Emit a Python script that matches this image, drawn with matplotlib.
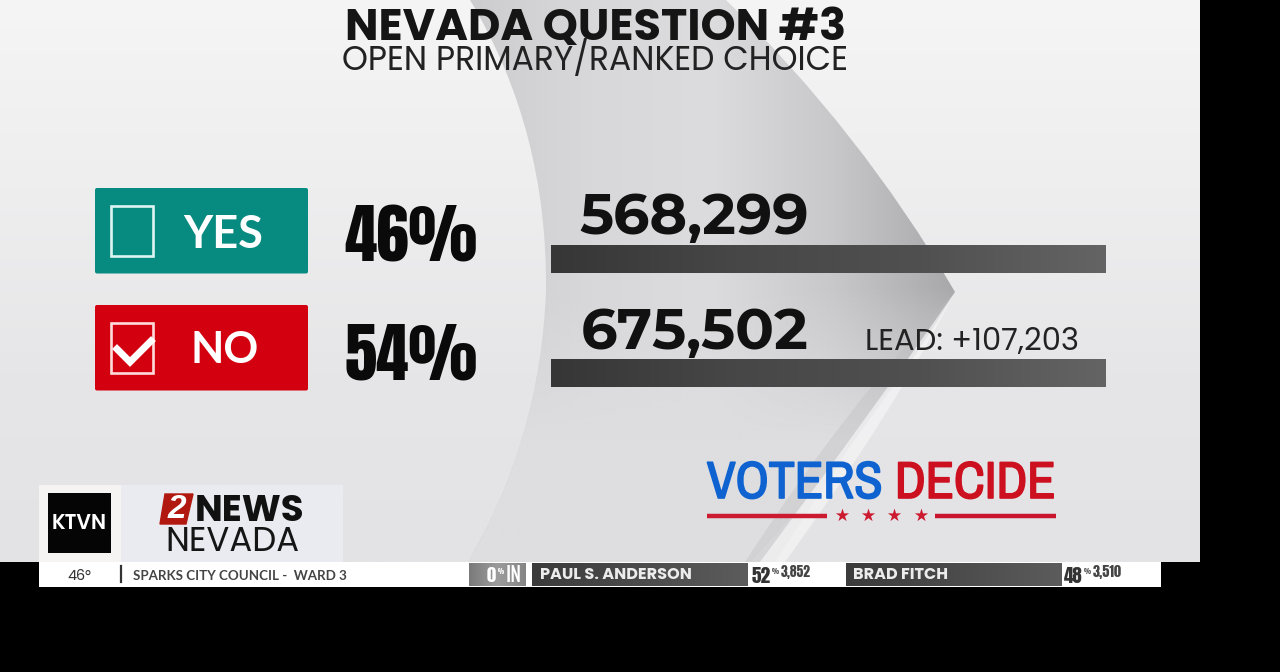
import logging
import numpy as np
import matplotlib
matplotlib.use("Agg")
import matplotlib.pyplot as plt
import matplotlib.patheffects as pe
from matplotlib.patches import Rectangle, PathPatch, FancyBboxPatch
from matplotlib.path import Path
from matplotlib.colors import LinearSegmentedColormap as LSC, to_rgb

logging.getLogger("matplotlib.font_manager").setLevel(logging.ERROR)

title = "NEVADA QUESTION #3"
subtitle = "OPEN PRIMARY/RANKED CHOICE"
choices = ["YES", "NO"]
percents = ["46%", "54%"]
votes = ["568,299", "675,502"]
bar_share = [100, 100]
lead = "LEAD: +107,203"
race = "SPARKS CITY COUNCIL -  WARD 3"
temp = "46°"
cand_names = ["PAUL S. ANDERSON", "BRAD FITCH"]
cand_pct = ["52", "48"]
cand_votes = ["3,852", "3,510"]

COND = ["Anton", "Roboto", "DejaVu Sans"]
NARROW = ["Archivo Narrow", "Roboto", "DejaVu Sans"]
FJALLA = ["Fjalla One", "Anton", "Roboto", "DejaVu Sans"]
DIGITS = ["Montserrat Alternates", "DejaVu Sans"]
WIDE = ["Poppins", "DejaVu Sans"]
LATO = ["Lato", "DejaVu Sans"]

fig = plt.figure(figsize=(12.8, 6.72), dpi=100, facecolor="black")
ax = fig.add_axes([0, 0, 1, 1])
renderer = fig.canvas.get_renderer()


def T(x0, x1, base, s, family, color, weight="normal", z=7, sw=0):
    """Text whose font size is set so it spans pixels x0..x1, on baseline base."""
    t = ax.text(x0, base, s, family=family, fontweight=weight, color=color, fontsize=20,
                ha="left", va="baseline", zorder=z)
    w = t.get_window_extent(renderer).width
    t.set_fontsize(20 * (x1 - x0) / w)
    if sw:
        t.set_path_effects([pe.withStroke(linewidth=sw, foreground=color)])
    return t


def grad(x0, x1, y0, y1, colors, horizontal=True, clip=None, z=1):
    t = np.linspace(0, 1, 256)
    arr = t[None, :] if horizontal else t[:, None]
    im = ax.imshow(arr, extent=(x0, x1, y1, y0), cmap=LSC.from_list("g", colors),
                   aspect="auto", zorder=z, interpolation="bilinear", vmin=0, vmax=1, origin="upper")
    if clip is not None:
        im.set_clip_path(clip)
    return im


def fade(x0, x1, y0, y1, color, a0, a1, horizontal=False, clip=None, z=3):
    t = np.linspace(a0, a1, 256)
    alpha = t[None, :] if horizontal else t[:, None]
    rgba = np.ones(alpha.shape + (4,))
    rgba[..., :3] = to_rgb(color)
    rgba[..., 3] = alpha
    im = ax.imshow(rgba, extent=(x0, x1, y1, y0), aspect="auto", zorder=z,
                   interpolation="bilinear", origin="upper")
    if clip is not None:
        im.set_clip_path(clip)
    return im


def shape(points, codes, **kw):
    p = PathPatch(Path(points, codes), **kw)
    ax.add_patch(p)
    return p


M, L, C = Path.MOVETO, Path.LINETO, Path.CURVE3

# Background
grad(0, 1200, 0, 562, ["#f5f5f5", "#eeeeef", "#e6e6e8", "#e3e3e5"], horizontal=False, z=1)
# Swoosh body
body = shape([(470, 0), (548, 130), (546, 292), (540, 440), (468, 562),
              (750, 562), (880, 420), (955, 292), (860, 130), (726, 0), (470, 0)],
             [M, C, C, C, C, L, C, C, C, C, L], fc="none", ec="none", zorder=2)
grad(470, 955, 0, 562, ["#cdcdcf", "#d8d8da", "#dcdcde", "#c8c8ca", "#a8a8aa"], clip=body, z=2)
fade(460, 960, 285, 440, "#dedee0", 0, 1, clip=body, z=3)
fade(460, 960, 440, 562, "#dedee0", 1, 1, clip=body, z=3)
# Shadow and highlight strip toward the tip
shadow = shape([(955, 292), (880, 400), (775, 562), (745, 562), (850, 400), (955, 292)],
               [M, C, C, L, C, C], fc="#bcbcbe", ec="none", alpha=.35, zorder=3)
glow = shape([(955, 292), (895, 410), (785, 562), (760, 562), (880, 400), (955, 292)],
             [M, C, C, L, C, C], fc="#f6f6f7", ec="none", alpha=.7, zorder=4)

# Title
T(345, 846, 40, title, WIDE, "#151515", "bold")
T(342, 849, 70, subtitle, WIDE, "#222222")

# Choice boxes
box_y = [188, 305]
box_col = ["#078a80", "#d3000f"]
label_span = [(183, 263), (190, 258)]
label_base = [248, 363]
for i, c in enumerate(choices):
    ax.add_patch(FancyBboxPatch((95, box_y[i]), 213, 85.5, boxstyle="round,pad=0,rounding_size=2",
                                fc=box_col[i], ec="none", zorder=5))
    ax.add_patch(Rectangle((111, box_y[i] + 17.5), 42, 50, fc="none", ec="#ddf5f2" if i == 0 else "#ffdcdc",
                           lw=1.9, zorder=6))
    T(label_span[i][0], label_span[i][1], label_base[i], c, LATO, "white", "bold")
    T(344, 477, box_y[i] + 74, percents[i], COND, "#0a0a0a")
# check mark
ax.plot([117, 130, 151], [349, 362, 341], color="white", lw=5, solid_joinstyle="miter", zorder=7)

# Votes
T(579, 809, 234, votes[0], DIGITS, "#111111", "bold")
T(581, 809, 349, votes[1], DIGITS, "#111111", "bold")
T(865, 1079, 350, lead, WIDE, "#222222")

# Logo at lower right
T(707, 883, 498, "VOTERS", NARROW, "#0f63d0", "bold", sw=1.2)
T(895, 1056, 498, "DECIDE", NARROW, "#cc1020", "bold", sw=1.2)
ax.plot([707, 827], [516, 516], color="#cc1b30", lw=3.2, zorder=6, solid_capstyle="butt")
ax.plot([935, 1056], [516, 516], color="#c8142c", lw=3.2, zorder=6, solid_capstyle="butt")
ax.scatter([842, 868, 894, 921], [515, 515, 515, 515], marker="*", s=100, color="#cc1b30",
           linewidths=0, zorder=6)

# Station bug
ax.add_patch(Rectangle((121, 485), 222, 77, fc="#e9ebf0", ec="none", zorder=4))
ax.add_patch(Rectangle((39, 485), 82, 77, fc="#f6f3f3", ec="none", zorder=5))
ax.add_patch(Rectangle((48, 493), 63, 60, fc="#050505", ec="none", zorder=6))
T(52, 107, 529, "KTVN", WIDE, "white", "semibold")
ax.fill([165, 193, 186, 160], [494, 494, 524, 524], color="#b01810", zorder=6)
ax.text(176.5, 509, "2", family=["Liberation Sans", "DejaVu Sans"], fontweight="bold", style="italic",
        fontsize=24, color="white", ha="center", va="center", zorder=7)
T(195, 305, 521, "NEWS", WIDE, "#111111", "bold")
T(165, 299, 551, "NEVADA", WIDE, "#151515")

# Ticker
ax.add_patch(Rectangle((0, 562), 1280, 110, fc="black", ec="none", zorder=4))
ax.add_patch(Rectangle((1200, 0), 80, 672, fc="black", ec="none", zorder=4))
ax.add_patch(Rectangle((39, 562), 1122, 25, fc="white", ec="none", zorder=5))
T(67, 91, 580, temp, WIDE, "#333333")
ax.plot([121, 121], [566, 582], color="#333333", lw=1.6, zorder=6)
T(133, 346, 580, race, LATO, "#444444", "bold")
grad(469, 526, 563, 586, ["#7a7a7a", "#9c9c9c", "#858585"], z=6)
T(487, 496, 582, "0", COND, "white")
T(498, 504, 574, "%", COND, "white")
T(506, 522, 582, "IN", FJALLA, "white")
seg_x = [(532, 748), (846, 1062)]
name_span = [(540, 692), (853, 948)]
pct_span = [(752, 771), (1064, 1083)]
sign_span = [(772, 779), (1084, 1091)]
vote_span = [(781, 811), (1093, 1122)]
for i in range(2):
    grad(seg_x[i][0], seg_x[i][1], 563, 586, ["#3b3b3b", "#4b4b4b", "#5c5c5c"], z=6)
    T(name_span[i][0], name_span[i][1], 579, cand_names[i], WIDE, "#ececec", "bold")
    T(pct_span[i][0], pct_span[i][1], 583, cand_pct[i], COND, "#333333")
    T(sign_span[i][0], sign_span[i][1], 574, "%", COND, "#555555")
    T(vote_span[i][0], vote_span[i][1], 577, cand_votes[i], COND, "#444444")

ax.set_xlim(0, 1280)
ax.set_ylim(672, 0)
ax.axis("off")

# Vote bars on their own scale
bx = fig.add_axes([551 / 1280, 1 - 388 / 672, 555 / 1280, 143 / 672], facecolor="none", zorder=5)
bars = bx.barh([0, 1], bar_share, height=28 / 114, color="#4a4a4a")
for b in bars:
    x0, y0, w, h = b.get_x(), b.get_y(), b.get_width(), b.get_height()
    bx.imshow(np.linspace(0, 1, 256)[None, :], extent=(x0, x0 + w, y0 + h, y0),
              cmap=LSC.from_list("b", ["#363636", "#474747", "#505050", "#646464"]),
              aspect="auto", zorder=3)
bx.set_xlim(0, 100)
bx.set_ylim(1 + 14.5 / 114, -14.5 / 114)
bx.axis("off")

fig.savefig("out.png", dpi=100, facecolor="black")
